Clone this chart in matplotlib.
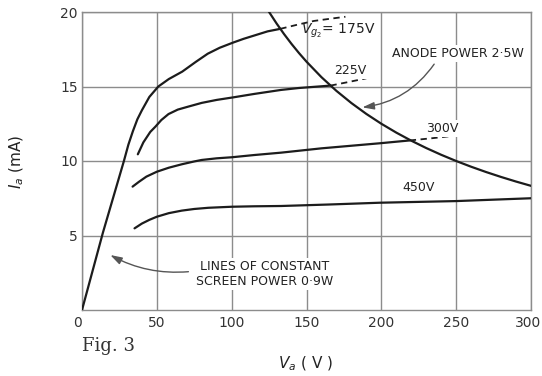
import numpy as np
import matplotlib
matplotlib.use("Agg")
import matplotlib.pyplot as plt
import matplotlib.transforms as mtransforms

# anode current curves for each screen-grid voltage (Va in V, Ia in mA)
va_175 = [0, 14, 28, 31, 34, 37, 40, 45, 51, 58, 67, 76, 84, 92, 101, 108, 116, 124, 132.5]
ia_175 = [0, 5.2, 10.0, 11.1, 12.0, 12.8, 13.4, 14.3, 15.0, 15.5, 16.0, 16.65, 17.2, 17.6, 17.95, 18.2, 18.45, 18.7, 18.87]
va_175_dash = [132.5, 144, 155, 166, 176]
ia_175_dash = [18.87, 19.15, 19.4, 19.55, 19.68]

va_225 = [37.3, 41, 45.6, 49, 53, 57.8, 64, 71, 80, 90, 101, 115, 133, 145, 166]
ia_225 = [10.45, 11.25, 11.95, 12.3, 12.75, 13.15, 13.45, 13.65, 13.9, 14.1, 14.27, 14.5, 14.77, 14.9, 15.06]
va_225_dash = [166, 178, 190]
ia_225_dash = [15.06, 15.3, 15.55]

va_300 = [33.8, 38, 43, 50, 58, 66.7, 75, 80, 90, 100, 115, 133, 160, 199, 219]
ia_300 = [8.28, 8.6, 8.95, 9.28, 9.55, 9.78, 9.97, 10.07, 10.18, 10.25, 10.4, 10.56, 10.85, 11.19, 11.38]
va_300_dash = [219, 234, 249]
ia_300_dash = [11.38, 11.53, 11.7]

va_450 = [35.1, 40, 45, 50, 58, 66.7, 75, 84.4, 100, 115, 133, 165, 199, 250, 300]
ia_450 = [5.48, 5.8, 6.05, 6.26, 6.5, 6.67, 6.78, 6.86, 6.93, 6.96, 6.98, 7.08, 7.2, 7.31, 7.5]

# constant anode dissipation curve
anode_power_w = 2.5
va_pa = [125, 130, 135, 140, 145, 150, 160, 170, 180, 190, 200, 210, 220,
         230, 240, 250, 260, 270, 280, 290, 300]
ia_pa = [1000 * anode_power_w / v for v in va_pa]

xticks = [0, 50, 100, 150, 200, 250, 300]
yticks = [5, 10, 15, 20]

ink = "#1c1c1c"
grey = "#8c8c8c"

fig = plt.figure(figsize=(5.42, 3.76), dpi=100)
ax = fig.add_axes([82 / 542, 66 / 376, 449 / 542, 298 / 376])
ax.set_xlim(0, 300)
ax.set_ylim(0, 20)

ax.set_xticks(xticks)
ax.set_yticks(yticks)
ax.tick_params(length=0, labelsize=10, colors="#333333", pad=4)
ax.tick_params(axis="y", pad=3)
xlabels = ax.get_xticklabels()
xlabels[0].set_ha("right")
# pull the last label in a little so it stays on the canvas
shift = mtransforms.ScaledTranslation(-3 / 100, 0, fig.dpi_scale_trans)
xlabels[-1].set_transform(xlabels[-1].get_transform() + shift)
ax.grid(True, color=grey, lw=1.0)
ax.set_axisbelow(True)
for s in ax.spines.values():
    s.set_color(grey)
    s.set_linewidth(1.0)

lw = 1.6
for va, ia in [(va_175, ia_175), (va_225, ia_225), (va_300, ia_300), (va_450, ia_450)]:
    ax.plot(va, ia, color=ink, lw=lw, solid_capstyle="round", zorder=3)
for va, ia in [(va_175_dash, ia_175_dash), (va_225_dash, ia_225_dash), (va_300_dash, ia_300_dash)]:
    ax.plot(va, ia, color=ink, lw=1.3, dashes=(3.5, 2.5), zorder=3)
ax.plot(va_pa, ia_pa, color=ink, lw=lw, zorder=3)

box = dict(facecolor="white", edgecolor="none", pad=1.5)
lab = dict(fontsize=9, color="#222222", zorder=4)
ax.text(146, 18.75, r"$V_{g_2}$= 175V", ha="left", va="center", fontsize=10,
        color="#222222", zorder=4)
ax.text(179, 16.05, "225V", ha="center", va="center", bbox=box, **lab)
ax.text(241, 12.2, "300V", ha="center", va="center", bbox=box, **lab)
ax.text(225, 8.2, "450V", ha="center", va="center", bbox=box, **lab)
ax.text(251, 17.2, "ANODE POWER 2\u00b75W", ha="center", va="center", bbox=box, **lab)
ax.text(122, 2.42, "LINES OF CONSTANT\nSCREEN POWER 0\u00b79W", ha="center",
        va="center", linespacing=1.15, bbox=box, **lab)

arrow = dict(arrowstyle="-|>,head_length=0.7,head_width=0.22", color="#555555",
             lw=1.0, shrinkA=0, shrinkB=0)
ax.annotate("", xy=(187.3, 13.6), xytext=(235.3, 16.5),
            arrowprops=dict(connectionstyle="arc3,rad=-0.22", **arrow), zorder=4)
ax.annotate("", xy=(18.9, 3.69), xytext=(71.1, 2.57),
            arrowprops=dict(connectionstyle="arc3,rad=-0.15", **arrow), zorder=4)

fig.text(82 / 542, 1 - 346 / 376, "Fig. 3", family="DejaVu Serif", fontsize=13,
         color="#333333", ha="left", va="center")
fig.text(305 / 542, 1 - 364 / 376, r"$V_a$ ( V )", fontsize=11, color="#222222",
         ha="center", va="center")
fig.text(17 / 542, 1 - 162 / 376, r"$I_a$ (mA)", fontsize=11, color="#222222",
         ha="center", va="center", rotation=90)

fig.savefig("out.png", dpi=100, facecolor="white")
